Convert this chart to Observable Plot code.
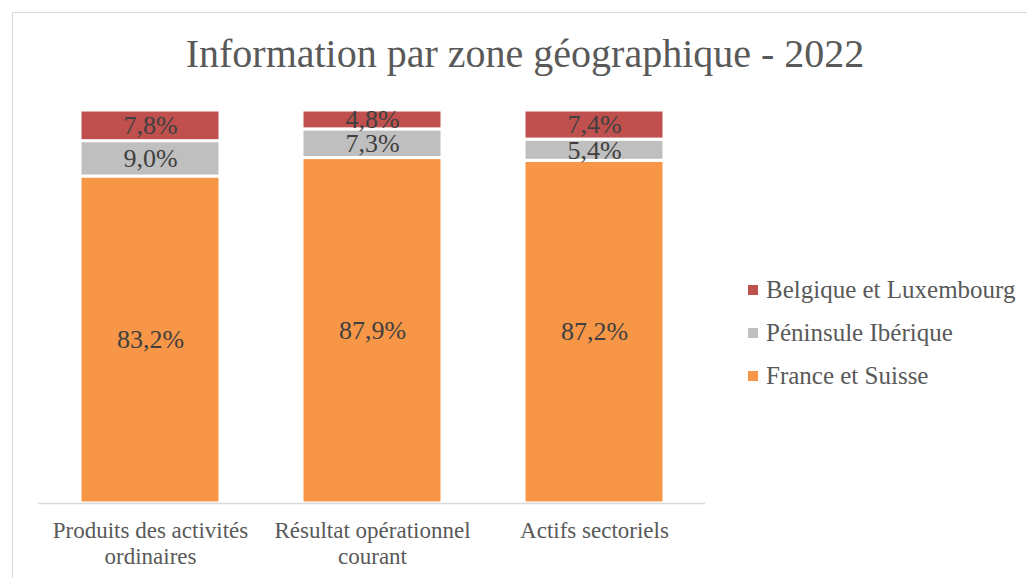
<!DOCTYPE html>
<html><head><meta charset="utf-8">
<script src="https://cdn.jsdelivr.net/npm/d3@7"></script>
<script src="https://cdn.jsdelivr.net/npm/@observablehq/plot@0.6"></script>
<style>
body{margin:0;background:#fff;}
#wrap{position:relative;width:1027px;height:578px;overflow:hidden;font-family:"Liberation Serif",serif;}
#frame{position:absolute;left:12px;top:12px;width:1030px;height:580px;border:1px solid #d9d9d9;box-sizing:border-box;}
#title{position:absolute;left:0;top:30px;width:1050px;text-align:center;font-size:40px;color:#595959;}
#chart{position:absolute;left:0;top:0;}
#legend{position:absolute;left:748px;top:268px;font-size:25px;color:#595959;}
#legend div{height:43px;display:flex;align-items:center;}
#legend span.sw{display:inline-block;width:10px;height:10px;margin-right:8px;}
</style></head>
<body><div id="wrap"><div id="frame"></div><div id="title">Information par zone géographique - 2022</div><div id="chart"></div><div id="legend"></div></div>
<script>
const categories = ["Produits des activités ordinaires", "Résultat opérationnel courant", "Actifs sectoriels"];
const tickLabels = ["Produits des activités\nordinaires", "Résultat opérationnel\ncourant", "Actifs sectoriels"];
const zones = ["France et Suisse", "Péninsule Ibérique", "Belgique et Luxembourg"];
const colors = ["#F79646", "#BFBFBF", "#C0504D"];
const franceSuisse = [83.2, 87.9, 87.2];
const peninsuleIberique = [9.0, 7.3, 5.4];
const belgiqueLuxembourg = [7.8, 4.8, 7.4];

const series = [franceSuisse, peninsuleIberique, belgiqueLuxembourg];
const data = [];
zones.forEach((z, i) => categories.forEach((c, j) => data.push({category: c, zone: z, value: series[i][j]})));
const fmt = v => v.toFixed(1).replace(".", ",") + "%";

const plot = Plot.plot({
  width: 720, height: 578,
  marginLeft: 38, marginRight: 15, marginTop: 110, marginBottom: 75,
  style: {fontFamily: "'Liberation Serif', serif", background: "transparent", overflow: "visible"},
  x: {domain: categories, paddingInner: 0.37, paddingOuter: 0.185, label: null},
  y: {domain: [0, 100], axis: null},
  color: {domain: zones, range: colors},
  marks: [
    Plot.barY(data, Plot.stackY({x: "category", y: "value", z: "zone", fill: "zone", order: zones, stroke: "white", strokeWidth: 3})),
    Plot.ruleY([0], {stroke: "#d9d9d9", strokeWidth: 1.5}),
    Plot.text(data, Plot.stackY({x: "category", y: "value", z: "zone", order: zones, text: d => fmt(d.value), fill: "#404040", fontSize: 26})),
    Plot.axisX({tickSize: 0, tickPadding: 16, fontSize: 23, fill: "#595959", lineHeight: 1.13, tickFormat: d => tickLabels[categories.indexOf(d)], label: null})
  ]
});
document.getElementById("chart").append(plot);

const leg = document.getElementById("legend");
[2, 1, 0].forEach(i => {
  const row = document.createElement("div");
  row.innerHTML = `<span class="sw" style="background:${colors[i]}"></span>${zones[i]}`;
  leg.append(row);
});
</script></body></html>
